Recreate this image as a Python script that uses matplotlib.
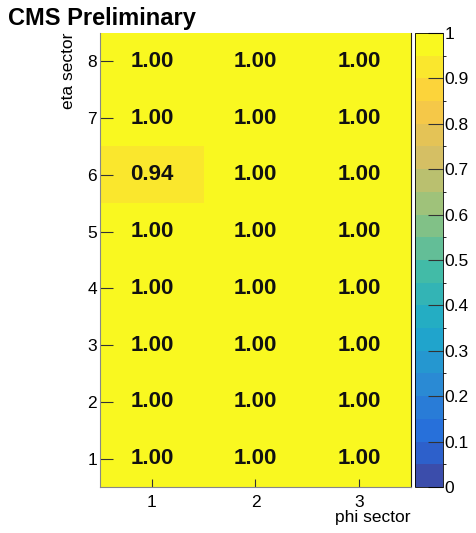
import numpy as np
import matplotlib
matplotlib.use('Agg')
import matplotlib.pyplot as plt
from matplotlib.colors import LinearSegmentedColormap, ListedColormap, BoundaryNorm

plt.rcParams['font.family'] = ['Liberation Sans', 'DejaVu Sans']

# --- DATA ---
phi_sectors = [1, 2, 3]
eta_sectors = [1, 2, 3, 4, 5, 6, 7, 8]
# efficiency[eta][phi]
efficiency = np.array([
    [1.00, 1.00, 1.00],
    [1.00, 1.00, 1.00],
    [1.00, 1.00, 1.00],
    [1.00, 1.00, 1.00],
    [1.00, 1.00, 1.00],
    [0.94, 1.00, 1.00],
    [1.00, 1.00, 1.00],
    [1.00, 1.00, 1.00],
])

# --- ROOT kBird palette, 20 contour bands ---
stops = [0.0, 0.125, 0.25, 0.375, 0.5, 0.625, 0.75, 0.875, 1.0]
red = [0.2082, 0.0592, 0.0780, 0.0232, 0.1802, 0.5301, 0.8186, 0.9956, 0.9764]
green = [0.1664, 0.3599, 0.5041, 0.6419, 0.7178, 0.7492, 0.7328, 0.7862, 0.9832]
blue = [0.5293, 0.8684, 0.8385, 0.7914, 0.6425, 0.4662, 0.3499, 0.1968, 0.0539]
bird = LinearSegmentedColormap.from_list(
    'bird', list(zip(stops, zip(red, green, blue))), N=255)
n_bands = 20


def soften(c):
    # the reference looks a bit washed out compared with the raw palette
    tint = np.array([0.96, 0.88, 0.78])
    return tuple(0.9 * np.array(c[:3]) + 0.1 * tint)


band_cmap = ListedColormap([soften(bird((i + 0.99) / n_bands)) for i in range(n_bands)])
levels = np.linspace(0, 1, n_bands + 1)
norm = BoundaryNorm(levels, n_bands)

fig = plt.figure(figsize=(4.77, 5.33), dpi=100)
ax = fig.add_axes([0.2096, 0.0863, 0.652, 0.852])
cax = fig.add_axes([0.870, 0.0863, 0.059, 0.852])

x_edges = np.arange(len(phi_sectors) + 1) + 0.5
y_edges = np.arange(len(eta_sectors) + 1) + 0.5
mesh = ax.pcolormesh(x_edges, y_edges, np.minimum(efficiency, 0.9999),
                     cmap=band_cmap, norm=norm)

for i, eta in enumerate(eta_sectors):
    for j, phi in enumerate(phi_sectors):
        ax.text(phi, eta, f"{efficiency[i, j]:.2f}", ha='center', va='center',
                fontsize=16, fontweight='bold', color='#111111')

ax.set_xlim(0.5, 3.5)
ax.set_ylim(0.5, 8.5)
ax.set_xticks(phi_sectors)
ax.set_yticks(eta_sectors)
ax.tick_params(axis='both', direction='in', labelsize=12.5, color='#333333')
ax.tick_params(axis='y', length=9, pad=2)
ax.tick_params(axis='x', length=6, pad=6)
for side in ['left', 'bottom', 'top']:
    ax.spines[side].set_color('#888888')
ax.spines['top'].set_visible(False)
ax.spines['right'].set_color('#222222')

ax.set_xlabel('phi sector', fontsize=12.5, loc='right', labelpad=0)
ax.set_ylabel('eta sector', fontsize=12.5, loc='top', labelpad=8)

cb = fig.colorbar(mesh, cax=cax, ticks=np.linspace(0, 1, 11))
cb.ax.set_yticklabels(['0', '0.1', '0.2', '0.3', '0.4', '0.5', '0.6', '0.7', '0.8', '0.9', '1'])
cb.ax.tick_params(direction='in', length=11, labelsize=12.5, pad=1, color='#333333')
cb.outline.set_linewidth(0.6)

fig.text(0.017, 0.966, 'CMS Preliminary', fontsize=17, fontweight='bold',
         ha='left', va='center')

fig.savefig('out.png', dpi=100)
